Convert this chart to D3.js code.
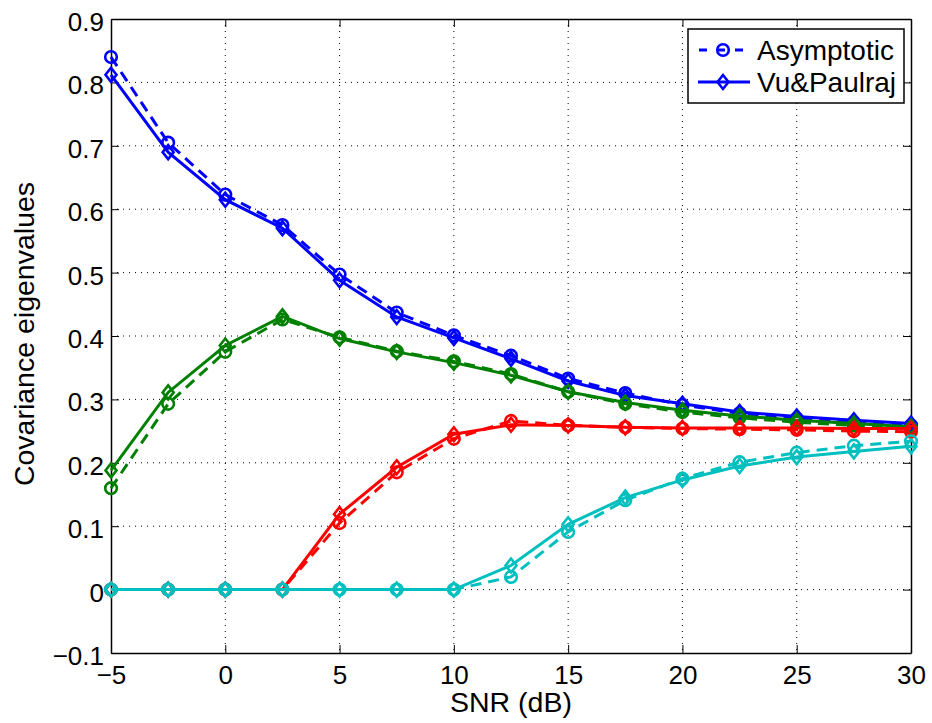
<!DOCTYPE html>
<html>
<head>
<meta charset="utf-8">
<script src="https://cdn.jsdelivr.net/npm/d3@7"></script>
<style>
  body { margin: 0; background: #fff; }
  svg { display: block; font-family: "Liberation Sans", Arial, sans-serif; }
</style>
</head>
<body>
<svg id="graph" width="932" height="723"></svg>
<script>
var snr = [-5, -2.5, 0, 2.5, 5, 7.5, 10, 12.5, 15, 17.5, 20, 22.5, 25, 27.5, 30];

// asymptotic (dashed, circles)
var asymBlue  = [0.840, 0.705, 0.623, 0.575, 0.497, 0.437, 0.401, 0.369, 0.333, 0.310, 0.291, 0.278, 0.270, 0.264, 0.259];
var asymGreen = [0.160, 0.293, 0.375, 0.426, 0.398, 0.376, 0.360, 0.340, 0.312, 0.293, 0.280, 0.271, 0.264, 0.259, 0.254];
var asymRed   = [0, 0, 0, 0, 0.105, 0.185, 0.238, 0.266, 0.259, 0.256, 0.254, 0.253, 0.252, 0.250, 0.249];
var asymCyan  = [0, 0, 0, 0, 0, 0, 0, 0.020, 0.091, 0.141, 0.175, 0.201, 0.216, 0.227, 0.234];

// Vu&Paulraj (solid, diamonds)
var vuBlue  = [0.812, 0.690, 0.615, 0.570, 0.488, 0.430, 0.397, 0.364, 0.329, 0.306, 0.293, 0.280, 0.273, 0.267, 0.262];
var vuGreen = [0.188, 0.311, 0.385, 0.431, 0.396, 0.375, 0.358, 0.338, 0.312, 0.295, 0.283, 0.274, 0.267, 0.262, 0.257];
var vuRed   = [0, 0, 0, 0, 0.119, 0.193, 0.245, 0.260, 0.259, 0.256, 0.255, 0.255, 0.255, 0.254, 0.254];
var vuCyan  = [0, 0, 0, 0, 0, 0, 0, 0.038, 0.103, 0.145, 0.173, 0.195, 0.209, 0.218, 0.226];

var xTicks = [-5, 0, 5, 10, 15, 20, 25, 30];
var yTicks = [-0.1, 0, 0.1, 0.2, 0.3, 0.4, 0.5, 0.6, 0.7, 0.8, 0.9];

var seriesList = [
    {color: "#0000ff", asym: asymBlue, vu: vuBlue},
    {color: "#008000", asym: asymGreen, vu: vuGreen},
    {color: "#ff0000", asym: asymRed, vu: vuRed},
    {color: "#00bfbf", asym: asymCyan, vu: vuCyan}
];

var margin = {left: 111, right: 21, top: 19, bottom: 70};
var W = 932, H = 723;
var iw = W - margin.left - margin.right;
var ih = H - margin.top - margin.bottom;

var x = d3.scaleLinear().domain([-5, 30]).range([0, iw]);
var y = d3.scaleLinear().domain([-0.1, 0.9]).range([ih, 0]);

var fmt = function(v) {
    var s = Math.abs(v) < 1e-9 ? "0" : d3.format("")(+v.toFixed(1));
    return s.replace("-", "\u2212");
};

var svg = d3.select("#graph");
var g = svg.append("g").attr("transform", "translate(" + margin.left + "," + margin.top + ")");

// grid
g.append("g").selectAll("line").data(xTicks.slice(1, -1)).enter().append("line")
    .attr("x1", function(d) { return x(d); }).attr("x2", function(d) { return x(d); })
    .attr("y1", 0).attr("y2", ih)
    .attr("stroke", "#000").attr("stroke-width", 1).attr("stroke-dasharray", "1,5");
g.append("g").selectAll("line").data(yTicks.slice(1, -1)).enter().append("line")
    .attr("y1", function(d) { return y(d); }).attr("y2", function(d) { return y(d); })
    .attr("x1", 0).attr("x2", iw)
    .attr("stroke", "#000").attr("stroke-width", 1).attr("stroke-dasharray", "1,5");

// axes with inward ticks
var xb = g.append("g").attr("transform", "translate(0," + ih + ")")
    .call(d3.axisBottom(x).tickValues(xTicks).tickSizeInner(-8).tickSizeOuter(0).tickPadding(13).tickFormat(fmt));
var xt = g.append("g")
    .call(d3.axisTop(x).tickValues(xTicks).tickSizeInner(-8).tickSizeOuter(0).tickFormat(""));
var yl = g.append("g")
    .call(d3.axisLeft(y).tickValues(yTicks).tickSizeInner(-8).tickSizeOuter(0).tickPadding(7).tickFormat(fmt));
var yr = g.append("g").attr("transform", "translate(" + iw + ",0)")
    .call(d3.axisRight(y).tickValues(yTicks).tickSizeInner(-8).tickSizeOuter(0).tickFormat(""));

[xb, xt, yl, yr].forEach(function(a) {
    a.select(".domain").attr("stroke", "#000").attr("stroke-width", 1.5);
    a.selectAll(".tick line").attr("stroke", "#000").attr("stroke-width", 1);
    a.selectAll("text").attr("font-size", 26).attr("fill", "#000")
        .attr("font-family", "Liberation Sans, Arial, sans-serif");
});
yl.selectAll("text").attr("dy", "0.44em");

var line = d3.line()
    .x(function(d) { return x(d[0]); })
    .y(function(d) { return y(d[1]); });

var diamond = "M0,-7L5.5,0L0,7L-5.5,0Z";

var drawCircles = function(sel, data, color) {
    sel.selectAll(null).data(data).enter().append("circle")
        .attr("cx", function(d) { return x(d[0]); })
        .attr("cy", function(d) { return y(d[1]); })
        .attr("r", 5.8)
        .attr("fill", "none").attr("stroke", color).attr("stroke-width", 2.6);
};
var drawDiamonds = function(sel, data, color) {
    sel.selectAll(null).data(data).enter().append("path")
        .attr("d", diamond)
        .attr("transform", function(d) { return "translate(" + x(d[0]) + "," + y(d[1]) + ")"; })
        .attr("fill", "none").attr("stroke", color).attr("stroke-width", 2.6);
};

var plot = g.append("g");
seriesList.forEach(function(s) {
    var a = snr.map(function(v, i) { return [v, s.asym[i]]; });
    var b = snr.map(function(v, i) { return [v, s.vu[i]]; });
    var grp = plot.append("g");
    grp.append("path").datum(a).attr("d", line)
        .attr("fill", "none").attr("stroke", s.color).attr("stroke-width", 3)
        .attr("stroke-dasharray", "11,7");
    drawCircles(grp, a, s.color);
    grp.append("path").datum(b).attr("d", line)
        .attr("fill", "none").attr("stroke", s.color).attr("stroke-width", 3);
    drawDiamonds(grp, b, s.color);
});

// legend
var lg = svg.append("g").attr("transform", "translate(688,29)");
lg.append("rect").attr("width", 216).attr("height", 74)
    .attr("fill", "#fff").attr("stroke", "#000").attr("stroke-width", 1.5);
var legendItems = [
    {label: "Asymptotic", dash: true, marker: "circle", yy: 21},
    {label: "Vu&Paulraj", dash: false, marker: "diamond", yy: 53}
];
legendItems.forEach(function(it) {
    var row = lg.append("g").attr("transform", "translate(0," + it.yy + ")");
    row.append("line").attr("x1", 10).attr("x2", 62).attr("y1", 0).attr("y2", 0)
        .attr("stroke", "#0000ff").attr("stroke-width", 3)
        .attr("stroke-dasharray", it.dash ? "8,10" : null)
        .attr("stroke-dashoffset", it.dash ? -1 : null);
    if (it.marker == "circle") {
        row.append("circle").attr("cx", 35).attr("cy", 0).attr("r", 5.8)
            .attr("fill", "none").attr("stroke", "#0000ff").attr("stroke-width", 2.6);
    } else {
        row.append("path").attr("d", diamond).attr("transform", "translate(35,0)")
            .attr("fill", "none").attr("stroke", "#0000ff").attr("stroke-width", 2.6);
    }
    row.append("text").attr("x", 69).attr("y", 10).attr("font-size", 28).attr("fill", "#000")
        .text(it.label);
});

// axis labels
svg.append("text").attr("x", margin.left + iw / 2).attr("y", 712)
    .attr("text-anchor", "middle").attr("font-size", 28.5).text("SNR (dB)");
svg.append("text").attr("transform", "translate(34," + (margin.top + ih / 2 - 2) + ") rotate(-90)")
    .attr("text-anchor", "middle").attr("font-size", 28.5).text("Covariance eigenvalues");
</script>
</body>
</html>
